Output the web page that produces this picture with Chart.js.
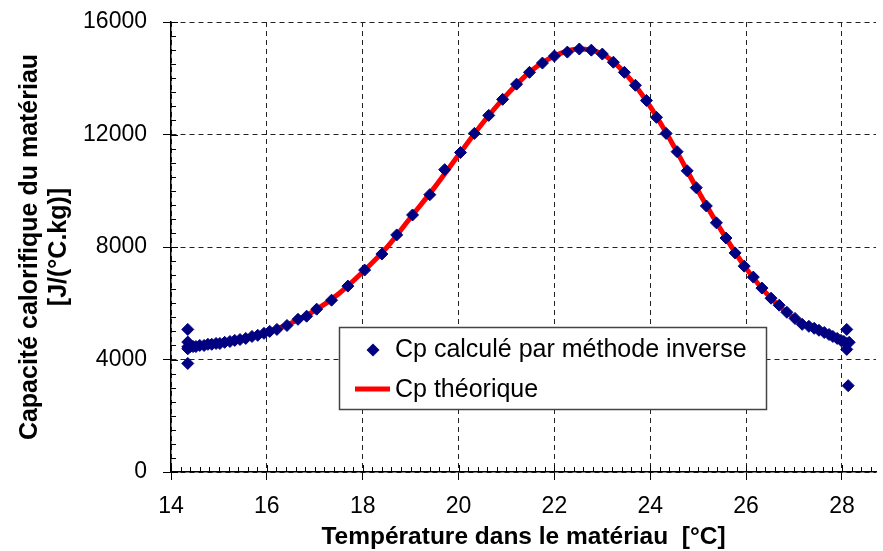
<!DOCTYPE html>
<html>
<head>
<meta charset="utf-8">
<script src="https://cdn.jsdelivr.net/npm/chart.js@4"></script>
<style>
  body { margin: 0; background: #fff; }
  #wrap { width: 883px; height: 551px; }
</style>
</head>
<body>
<div id="wrap"><canvas id="cpChart" width="883" height="551"></canvas></div>
<script>
// points obtenus par méthode inverse
var tempMesure = [14.35, 14.35, 14.35, 14.35, 14.35, 14.40, 14.46, 14.52, 14.60, 14.69, 14.77, 14.85, 14.94, 15.02,
    15.12, 15.23, 15.33, 15.44, 15.56, 15.69, 15.81, 15.94, 16.06, 16.21, 16.42, 16.65, 16.83, 17.04, 17.35, 17.69,
    18.04, 18.40, 18.71, 19.04, 19.40, 19.71, 20.04, 20.33, 20.63, 20.92, 21.21, 21.48, 21.75, 22.00, 22.27, 22.52,
    22.77, 23.00, 23.23, 23.46, 23.69, 23.92, 24.13, 24.33, 24.56, 24.77, 24.96, 25.17, 25.38, 25.58, 25.77, 25.96,
    26.15, 26.33, 26.52, 26.69, 26.85, 27.02, 27.17, 27.31, 27.42, 27.52, 27.63, 27.73, 27.81, 27.90, 27.98, 28.04,
    28.10, 28.15, 28.10, 28.10, 28.13];
var cpInverse = [5070, 4620, 4380, 3860, 4450, 4460, 4460, 4460, 4500, 4500, 4540, 4540, 4570, 4570,
    4610, 4640, 4680, 4710, 4750, 4820, 4860, 4930, 5000, 5070, 5210, 5430, 5540, 5790, 6110, 6610,
    7180, 7750, 8430, 9140, 9860, 10750, 11360, 12040, 12680, 13250, 13790, 14210, 14540, 14790, 14930, 15040,
    15000, 14860, 14570, 14210, 13750, 13210, 12610, 12040, 11390, 10710, 10110, 9460, 8860, 8320, 7790, 7320,
    6930, 6540, 6180, 5930, 5680, 5460, 5250, 5180, 5110, 5040, 4960, 4890, 4820, 4750, 4680, 4640,
    4570, 4610, 5070, 4360, 3070];

// courbe théorique
var tempTheo = [14.35, 14.5, 15, 15.5, 16, 16.5, 17, 17.5, 18, 18.5, 19, 19.5, 20, 20.5, 21, 21.5, 22, 22.5,
    23, 23.5, 24, 24.5, 25, 25.5, 26, 26.5, 27, 27.5, 28, 28.2];
var cpTheo = [4440, 4470, 4570, 4730, 4970, 5290, 5740, 6340, 7110, 7980, 9050, 10120, 11270, 12400, 13400, 14240, 14790, 15040,
    14860, 14130, 12990, 11560, 9990, 8540, 7240, 6210, 5480, 5040, 4680, 4600];

var xTicks = [14, 16, 18, 20, 22, 24, 26, 28];
var yTicks = [0, 4000, 8000, 12000, 16000];

var labelFont = "'Liberation Sans', Arial, sans-serif";

function toPoints(xs, ys) {
    return xs.map(function (x, i) { return { x: x, y: ys[i] }; });
}

// pas de marge automatique autour des axes
function noPadding(scale) {
    scale.paddingLeft = 0;
    scale.paddingRight = 0;
    scale.paddingTop = 0;
    scale.paddingBottom = 0;
}

// graduations secondaires + petits traits vers l'intérieur
var minorTicks = {
    id: 'minorTicks',
    afterDatasetsDraw: function (chart) {
        var c = chart.ctx, xs = chart.scales.x, ys = chart.scales.y, a = chart.chartArea;
        c.save();
        c.strokeStyle = '#000';
        c.lineWidth = 1;
        c.beginPath();
        for (var t = 140; t <= 290; t += 2) {
            var px = Math.round(xs.getPixelForValue(t / 10)) + 0.5;
            if (px > a.right) break;
            c.moveTo(px, a.bottom);
            c.lineTo(px, a.bottom - (t % 20 === 0 ? 7 : 5));
        }
        for (var v = 0; v <= 16000; v += 500) {
            var py = Math.round(ys.getPixelForValue(v)) + 0.5;
            c.moveTo(a.left, py);
            c.lineTo(a.left + (v % 4000 === 0 ? 7 : 5), py);
        }
        c.stroke();
        c.restore();
    }
};

// légende encadrée dans la zone du graphique
var boxLegend = {
    id: 'boxLegend',
    afterDraw: function (chart) {
        var c = chart.ctx;
        c.save();
        c.fillStyle = '#fff';
        c.fillRect(339, 327, 428, 83);
        c.strokeStyle = '#444';
        c.lineWidth = 1.5;
        c.strokeRect(339.5, 327.5, 427, 82);

        c.fillStyle = '#000080';
        c.beginPath();
        c.moveTo(373, 343.5); c.lineTo(379.5, 350); c.lineTo(373, 356.5); c.lineTo(366.5, 350);
        c.closePath();
        c.fill();

        c.strokeStyle = '#ff0000';
        c.lineWidth = 5;
        c.beginPath();
        c.moveTo(355, 389); c.lineTo(390, 389);
        c.stroke();

        c.fillStyle = '#000';
        c.font = '25px ' + labelFont;
        c.textBaseline = 'middle';
        c.fillText('Cp calculé par méthode inverse', 395, 350);
        c.fillText('Cp théorique', 395, 390);
        c.restore();
    }
};

var ctx = document.getElementById('cpChart').getContext('2d');

var cpChart = new Chart(ctx, {
    type: 'scatter',
    data: {
        datasets: [{
            label: 'Cp calculé par méthode inverse',
            data: toPoints(tempMesure, cpInverse),
            pointStyle: 'rectRot',
            pointRadius: 6,
            pointBorderWidth: 1,
            backgroundColor: '#000080',
            borderColor: '#000080',
            order: 1
        }, {
            label: 'Cp théorique',
            data: toPoints(tempTheo, cpTheo),
            showLine: true,
            pointRadius: 0,
            borderColor: '#ff0000',
            borderWidth: 5,
            cubicInterpolationMode: 'monotone',
            order: 2
        }]
    },
    plugins: [minorTicks, boxLegend],
    options: {
        responsive: false,
        animation: false,
        layout: { padding: { top: 22, right: 0, left: 0, bottom: -2 } },
        plugins: {
            legend: { display: false },
            tooltip: { enabled: false }
        },
        scales: {
            x: {
                type: 'linear',
                min: 14,
                max: 28.71,
                afterBuildTicks: function (scale) {
                    scale.ticks = xTicks.map(function (v) { return { value: v }; });
                },
                afterFit: function (scale) {
                    scale.height = 81;
                    noPadding(scale);
                },
                ticks: {
                    color: '#000',
                    font: { family: labelFont, size: 23 },
                    padding: 13,
                    maxRotation: 0,
                    callback: function (v) { return String(v); }
                },
                grid: { color: '#222', lineWidth: 1, tickLength: 8, tickColor: '#000' },
                border: { color: '#000', width: 1.5, dash: [5, 4] },
                title: {
                    display: true,
                    text: 'Température dans le matériau  [°C]',
                    color: '#000',
                    font: { family: labelFont, size: 24.5, weight: 'bold' },
                    padding: { top: 0, bottom: 1 }
                }
            },
            y: {
                min: 0,
                max: 16000,
                afterBuildTicks: function (scale) {
                    scale.ticks = yTicks.map(function (v) { return { value: v }; });
                },
                afterFit: function (scale) {
                    scale.width = 171;
                    noPadding(scale);
                },
                ticks: {
                    color: '#000',
                    font: { family: labelFont, size: 23 },
                    padding: 16,
                    callback: function (v) { return String(v); }
                },
                grid: { color: '#222', lineWidth: 1, tickLength: 8, tickColor: '#000' },
                border: { color: '#000', width: 1.5, dash: [5, 4] },
                title: {
                    display: true,
                    text: ['Capacité calorifique du matériau', '[J/(°C.kg)]'],
                    color: '#000',
                    font: { family: labelFont, size: 25, weight: 'bold', lineHeight: 1.15 },
                    padding: { top: 16, bottom: 0 }
                }
            }
        }
    }
});
</script>
</body>
</html>
